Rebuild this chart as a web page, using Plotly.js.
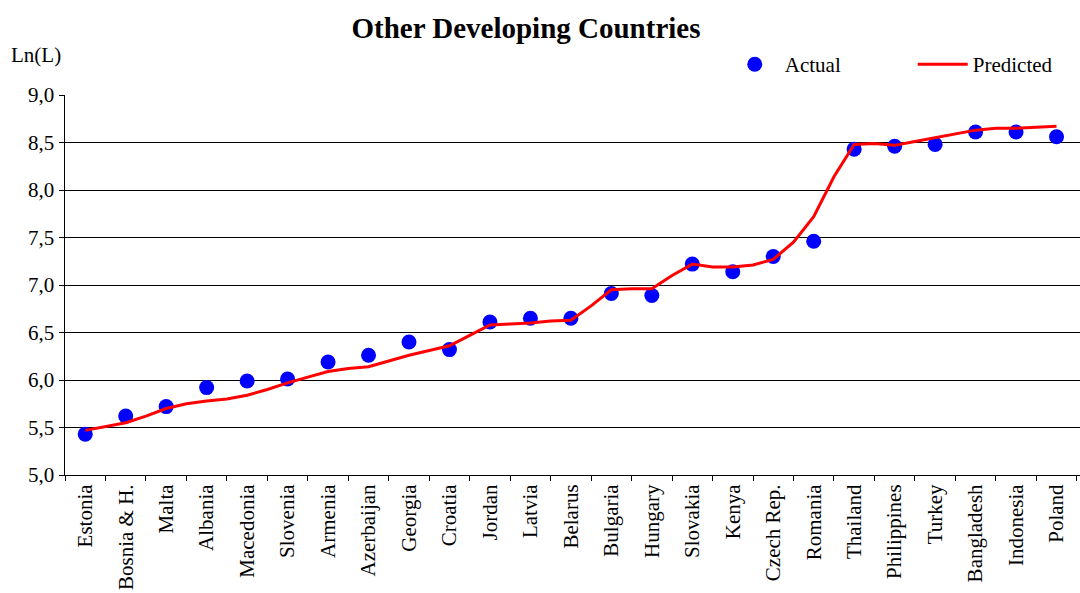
<!DOCTYPE html>
<html>
<head>
<meta charset="utf-8">
<script src="https://cdn.plot.ly/plotly-3.0.1.min.js"></script>
<style>html,body{margin:0;padding:0;background:#fff;}#chart{width:1080px;height:593px;}</style>
</head>
<body>
<div id="chart"></div>
<script>
const countries = ["Estonia","Bosnia & H.","Malta","Albania","Macedonia","Slovenia","Armenia","Azerbaijan","Georgia","Croatia","Jordan","Latvia","Belarus","Bulgaria","Hungary","Slovakia","Kenya","Czech Rep.","Romania","Thailand","Philippines","Turkey","Bangladesh","Indonesia","Poland"];
const actual = [5.43,5.62,5.72,5.92,5.99,6.01,6.19,6.26,6.40,6.32,6.61,6.65,6.65,6.91,6.89,7.22,7.14,7.30,7.46,8.43,8.46,8.48,8.61,8.61,8.56];
// predicted curve read at half-category steps (0, 0.5, 1, ... 24)
const predictedPos = [0,0.5,1,1.5,2,2.5,3,3.5,4,4.5,5,5.5,6,6.5,7,7.5,8,8.5,9,9.5,10,10.5,11,11.5,12,12.5,13,13.5,14,14.5,15,15.5,16,16.5,17,17.5,18,18.5,19,19.5,20,20.5,21,21.5,22,22.5,23,23.5,24];
const predicted = [5.47,5.51,5.55,5.62,5.70,5.75,5.78,5.80,5.84,5.90,5.97,6.03,6.09,6.12,6.14,6.20,6.26,6.31,6.36,6.47,6.58,6.59,6.60,6.62,6.63,6.78,6.95,6.96,6.96,7.10,7.22,7.19,7.19,7.21,7.27,7.45,7.72,8.14,8.48,8.49,8.47,8.51,8.55,8.59,8.63,8.65,8.65,8.66,8.67];
const yTicks = [5.0,5.5,6.0,6.5,7.0,7.5,8.0,8.5,9.0];

const serif = "Liberation Serif, Times New Roman, serif";
const idx = countries.map((c,i)=>i);

const traces = [
  {x: idx, y: actual, name: "Actual", type: "scatter", mode: "markers",
   marker: {color: "#0000FF", size: 15}},
  {x: predictedPos, y: predicted, name: "Predicted", type: "scatter", mode: "lines",
   line: {color: "#FF0000", width: 3}}
];

const layout = {
  width: 1080, height: 593,
  margin: {l: 65, r: 0, t: 95, b: 118, autoexpand: false},
  paper_bgcolor: "#fff", plot_bgcolor: "#fff",
  separators: ", ",
  font: {family: serif, size: 21, color: "#000"},
  title: {text: "<b>Other Developing Countries</b>", font: {family: serif, size: 29, color: "#000"},
          x: 0.487, xanchor: "center", y: 0.953, yanchor: "middle"},
  showlegend: true,
  legend: {orientation: "h", x: 0.650, xanchor: "left", y: 1.08, yanchor: "middle",
           font: {family: serif, size: 21}, entrywidth: 123, itemwidth: 50, bgcolor: "rgba(0,0,0,0)",
           traceorder: "normal"},
  xaxis: {range: [-0.5, 24.58], tickmode: "array", tickvals: idx, ticktext: countries,
          tickangle: -90, ticks: "", showgrid: false, zeroline: false,
          showline: true, linecolor: "#000", linewidth: 1,
          tickfont: {family: serif, size: 21},
          minor: {tickmode: "linear", tick0: 0.5, dtick: 1, ticks: "outside", ticklen: 5, tickcolor: "#000", showgrid: false}},
  yaxis: {range: [5, 9], tickmode: "array", tickvals: yTicks, tickformat: ".1f",
          ticks: "outside", ticklen: 5, tickcolor: "#000",
          showgrid: true, gridcolor: "#000", gridwidth: 1, zeroline: false,
          showline: true, linecolor: "#000", linewidth: 1.5,
          tickfont: {family: serif, size: 21}},
  annotations: [
    {text: "Ln(L)", xref: "paper", yref: "paper", x: -0.055, y: 1.105, xanchor: "left", yanchor: "middle",
     showarrow: false, font: {family: serif, size: 21, color: "#000"}}
  ]
};

Plotly.newPlot("chart", traces, layout, {displayModeBar: false, staticPlot: true});
</script>
</body>
</html>
